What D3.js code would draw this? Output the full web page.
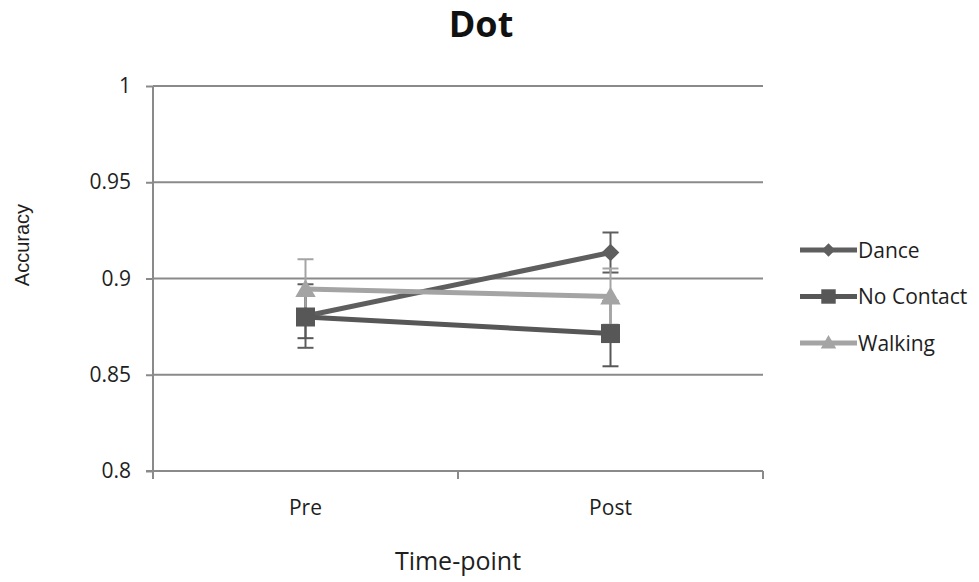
<!DOCTYPE html>
<html>
<head>
<meta charset="utf-8">
<script src="https://cdn.jsdelivr.net/npm/d3@7"></script>
<style>
  body { margin: 0; background: #fff; }
  svg { display: block; }
</style>
</head>
<body>
<svg id="chart" width="979" height="582"></svg>
<script>
// Time points on the x axis
const timepoints = ["Pre", "Post"];
// Groups shown in the legend
const groups = ["Dance", "No Contact", "Walking"];
// Mean accuracy per group at Pre and Post
const danceValues = [0.8805, 0.9135];
const noContactValues = [0.8800, 0.8714];
const walkingValues = [0.8945, 0.8906];
// Error bar half-widths per group at Pre and Post
const danceErrors = [0.0165, 0.0104];
const noContactErrors = [0.0110, 0.0170];
const walkingErrors = [0.0155, 0.0146];
// Y axis tick values
const yTicks = [0.8, 0.85, 0.9, 0.95, 1];

const series = [
  { name: groups[0], values: danceValues, errors: danceErrors, color: "#5e5e5e", marker: "diamond" },
  { name: groups[1], values: noContactValues, errors: noContactErrors, color: "#575757", marker: "square" },
  { name: groups[2], values: walkingValues, errors: walkingErrors, color: "#a4a4a4", marker: "triangle" }
];

const svg = d3.select("#chart");
const font = "'Open Sans', 'Segoe UI', sans-serif";
const textColor = "#1e1e1e";
const plot = { left: 153, right: 763, top: 86, bottom: 471 };

const x = d3.scaleBand().domain(timepoints).range([plot.left, plot.right]);
const y = d3.scaleLinear().domain([0.8, 1]).range([plot.bottom, plot.top]);

// Horizontal gridlines
svg.append("g").selectAll("line").data(yTicks.slice(1)).join("line")
  .attr("x1", plot.left).attr("x2", plot.right)
  .attr("y1", d => y(d)).attr("y2", d => y(d))
  .attr("stroke", "#8a8a8a").attr("stroke-width", 2);

// Y axis
const yAxis = svg.append("g").attr("transform", `translate(${plot.left},0)`)
  .call(d3.axisLeft(y).tickValues(yTicks).tickSize(7).tickPadding(15)
    .tickFormat(d => String(+d.toFixed(2))));
yAxis.selectAll("path, line").attr("stroke", "#8a8a8a").attr("stroke-width", 2);
yAxis.select("path").attr("d", `M0,${plot.top}V${plot.bottom}`);
yAxis.selectAll("text").attr("font-family", font).attr("font-size", 21).attr("fill", textColor);

// X axis with ticks between categories
const xAxisG = svg.append("g");
xAxisG.append("line").attr("x1", plot.left - 7).attr("x2", plot.right)
  .attr("y1", plot.bottom).attr("y2", plot.bottom)
  .attr("stroke", "#8a8a8a").attr("stroke-width", 2);
const boundaries = [plot.left, ...timepoints.map(t => x(t) + x.bandwidth())];
xAxisG.selectAll("line.tick").data(boundaries).join("line").attr("class", "tick")
  .attr("x1", d => d).attr("x2", d => d).attr("y1", plot.bottom).attr("y2", plot.bottom + 8)
  .attr("stroke", "#8a8a8a").attr("stroke-width", 2);
xAxisG.selectAll("text").data(timepoints).join("text")
  .attr("x", d => x(d) + x.bandwidth() / 2).attr("y", plot.bottom + 44)
  .attr("text-anchor", "middle").attr("font-family", font).attr("font-size", 21).attr("fill", textColor)
  .text(d => d);

const cx = t => x(t) + x.bandwidth() / 2;

// Error bars
series.forEach(s => {
  const g = svg.append("g");
  timepoints.forEach((t, i) => {
    const hi = y(s.values[i] + s.errors[i]), lo = y(s.values[i] - s.errors[i]);
    g.append("line").attr("x1", cx(t)).attr("x2", cx(t)).attr("y1", hi).attr("y2", lo)
      .attr("stroke", s.color).attr("stroke-width", 2);
    [hi, lo].forEach(v => g.append("line")
      .attr("x1", cx(t) - 8).attr("x2", cx(t) + 8).attr("y1", v).attr("y2", v)
      .attr("stroke", s.color).attr("stroke-width", 2));
  });
});

// Marker shapes: diamond is a square turned 45 degrees
const markerPath = (m, scale) => {
  if (m === "diamond") return d3.symbol(d3.symbolSquare, 155 * scale * scale)();
  if (m === "square") return d3.symbol(d3.symbolSquare, 361 * scale * scale)();
  return d3.symbol(d3.symbolTriangle, 180 * scale * scale)();
};
const markerRotate = m => m === "diamond" ? 45 : 0;
const markerShift = m => m === "triangle" ? 2 : 0;

// Lines and markers
const line = d3.line().x((d, i) => cx(timepoints[i])).y(d => y(d));
series.forEach(s => {
  svg.append("path").datum(s.values).attr("d", line)
    .attr("fill", "none").attr("stroke", s.color).attr("stroke-width", 5);
  svg.append("g").selectAll("path").data(s.values).join("path")
    .attr("transform", (d, i) => `translate(${cx(timepoints[i])},${y(d) + markerShift(s.marker)}) rotate(${markerRotate(s.marker)})`)
    .attr("d", markerPath(s.marker, 1))
    .attr("fill", s.color);
});

// Legend
const legend = svg.append("g");
series.forEach((s, i) => {
  const ly = 250 + i * 46.5;
  legend.append("line").attr("x1", 800).attr("x2", 857).attr("y1", ly).attr("y2", ly)
    .attr("stroke", s.color).attr("stroke-width", 5);
  legend.append("path")
    .attr("transform", `translate(828.5,${ly + markerShift(s.marker) / 2}) rotate(${markerRotate(s.marker)})`)
    .attr("d", markerPath(s.marker, 0.76)).attr("fill", s.color);
  legend.append("text").attr("x", 858).attr("y", ly).attr("dy", "0.36em")
    .attr("font-family", font).attr("font-size", 21).attr("fill", textColor).text(s.name);
});

// Title and axis titles
svg.append("text").attr("x", 481).attr("y", 37).attr("text-anchor", "middle")
  .attr("font-family", font).attr("font-weight", "bold").attr("font-size", 36).attr("fill", "#111").text("Dot");
svg.append("text").attr("transform", "translate(29,245) rotate(-90)").attr("text-anchor", "middle")
  .attr("font-family", "'Liberation Sans', Arial, sans-serif").attr("font-size", 20).attr("fill", textColor).text("Accuracy");
svg.append("text").attr("x", 458).attr("y", 570).attr("text-anchor", "middle")
  .attr("font-family", font).attr("font-size", 25).attr("fill", textColor).text("Time-point");
</script>
</body>
</html>
